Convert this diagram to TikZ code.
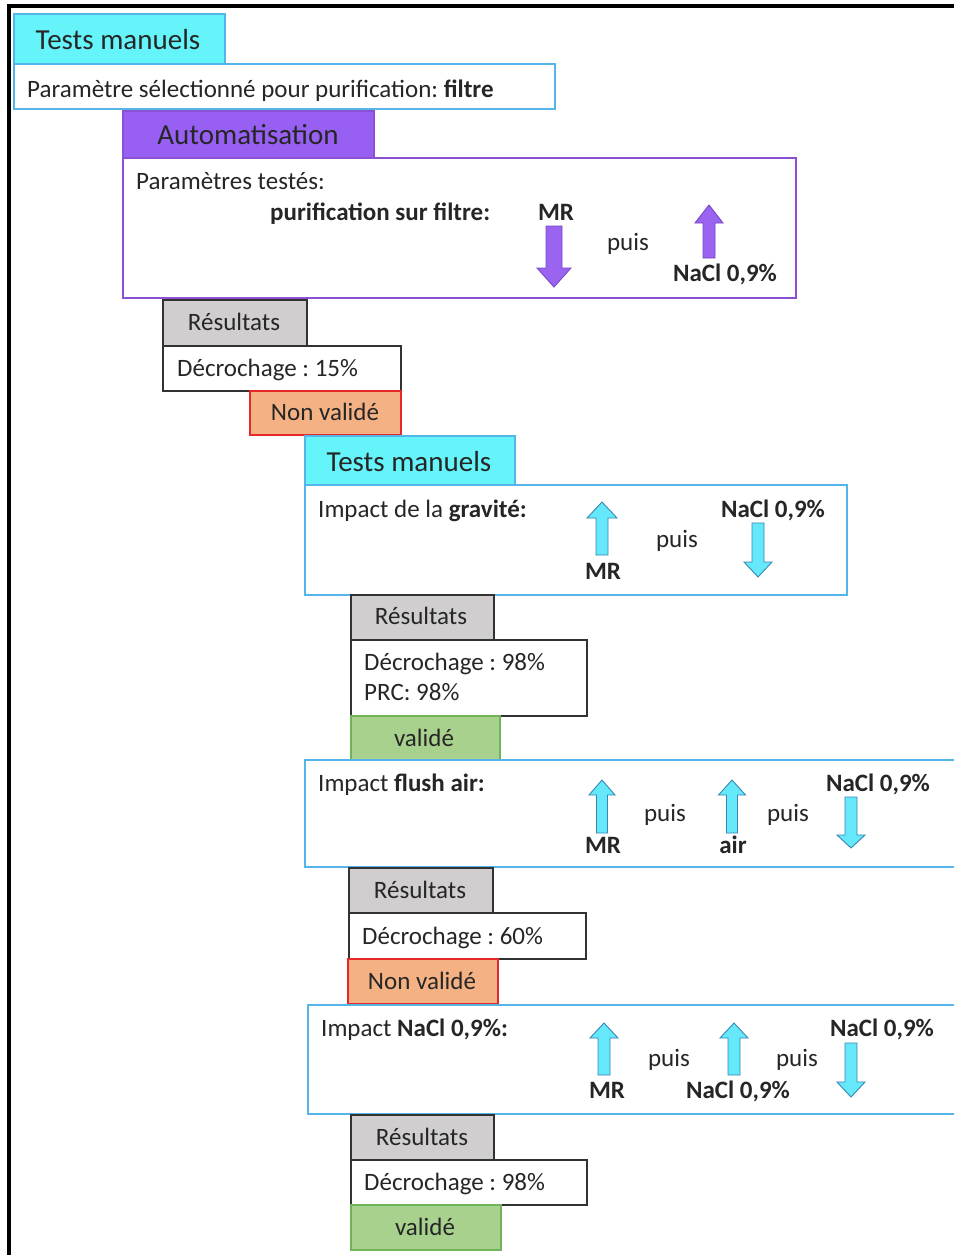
\documentclass[tikz,border=0pt]{standalone}
\usepackage{fontspec}
\setmainfont{Carlito}
\frenchspacing
\definecolor{txt}{RGB}{38,38,38}
\definecolor{cyanfill}{RGB}{100,244,250}
\definecolor{bluebrd}{RGB}{85,180,232}
\definecolor{purfill}{RGB}{152,96,242}
\definecolor{purbrd}{RGB}{140,80,210}
\definecolor{grayfill}{RGB}{208,206,206}
\definecolor{darkbrd}{RGB}{50,50,50}
\definecolor{orfill}{RGB}{244,177,131}
\definecolor{redbrd}{RGB}{230,40,40}
\definecolor{grfill}{RGB}{169,209,142}
\definecolor{grbrd}{RGB}{112,180,90}
\definecolor{arrcyan}{RGB}{100,232,250}
\definecolor{arrcyanbrd}{RGB}{55,135,180}
\definecolor{arrpur}{RGB}{155,100,240}
\definecolor{arrpurbrd}{RGB}{120,70,200}
\newcommand{\BlkArr}[7]{%
  \draw[#1] ({#2-#6},#3) -- ({#2-#6},#4) -- ({#2-#7},#4) -- (#2,#5) -- ({#2+#7},#4) -- ({#2+#6},#4) -- ({#2+#6},#3) -- cycle;}
\tikzset{
  box/.style={draw, rectangle, anchor=north west, inner sep=0pt, line width=1.6pt},
  hcyan/.style={box, fill=cyanfill, draw=bluebrd},
  bcyan/.style={box, fill=white, draw=bluebrd},
  hpur/.style={box, fill=purfill, draw=purbrd},
  bpur/.style={box, fill=white, draw=purbrd},
  hgray/.style={box, fill=grayfill, draw=darkbrd},
  bwhite/.style={box, fill=white, draw=darkbrd},
  nonval/.style={box, fill=orfill, draw=redbrd},
  val/.style={box, fill=grfill, draw=grbrd},
  htxt/.style={text=txt, inner sep=0pt, anchor=base, font=\fontsize{29}{33}\selectfont},
  ctxt/.style={text=txt, inner sep=0pt, anchor=base, font=\fontsize{25}{29}\selectfont},
  ltxt/.style={text=txt, inner sep=0pt, anchor=base west, font=\fontsize{25}{29}\selectfont},
  cyarr/.style={fill=arrcyan, draw=arrcyanbrd, line width=0.9pt, line join=miter},
  puarr/.style={fill=arrpur, draw=arrpurbrd, line width=0.9pt, line join=miter},
}
\begin{document}
\begin{tikzpicture}[x=1pt,y=-1pt]
\useasboundingbox (0,0) rectangle (954,1255);
\clip (0,0) rectangle (954,1255);
\fill[white] (0,0) rectangle (954,1255);
% frame
\draw[line width=3.5pt] (7,6) -- (954,6);
\draw[line width=3.5pt] (9,6) -- (9,1255);
% block 1
\node[hcyan, minimum width=211pt, minimum height=50pt] (h1) at (13,13) {};
\node[htxt] (h1t) at (118,49) {Tests manuels};
\node[bcyan, minimum width=541pt, minimum height=45pt] (b1) at (13,63) {};
\node[ltxt] (b1t) at (27,97) {Paramètre sélectionné pour purification: \textbf{filtre}};
% automatisation
\node[hpur, minimum width=251pt, minimum height=47pt] (h2) at (122,110) {};
\node[htxt] (h2t) at (248,144) {Automatisation};
\node[bpur, minimum width=673pt, minimum height=140pt] (b2) at (122,157) {};
\node[ltxt] (b2a) at (136,189) {Paramètres testés:};
\node[ltxt] (b2b) at (270,220) {\textbf{purification sur filtre:}};
\node[ctxt] (b2mr) at (556,220) {\textbf{MR}};
\node[ctxt] (b2p) at (628,250) {puis};
\node[ctxt] (b2n) at (725,281) {\textbf{NaCl 0,9\%}};
\BlkArr{puarr}{554}{226}{268}{287}{8}{17}
\BlkArr{puarr}{709}{258}{223}{205}{6}{14}
% results 1
\node[hgray, minimum width=144pt, minimum height=46pt] (r1) at (162,299) {};
\node[ctxt] (r1t) at (234,330) {Résultats};
\node[bwhite, minimum width=238pt, minimum height=45pt] (d1) at (162,345) {};
\node[ltxt] (d1t) at (177,376) {Décrochage : 15\%};
\node[nonval, minimum width=151pt, minimum height=44pt] (n1) at (249,390) {};
\node[ctxt] (n1t) at (325,420) {Non validé};
% tests manuels 2 - gravity
\node[hcyan, minimum width=210pt, minimum height=49pt] (h3) at (304,435) {};
\node[htxt] (h3t) at (409,471) {Tests manuels};
\node[bcyan, minimum width=542pt, minimum height=110pt] (b3) at (304,484) {};
\node[ltxt] (b3a) at (318,517) {Impact de la \textbf{gravité:}};
\node[ctxt] (b3mr) at (603,579) {\textbf{MR}};
\node[ctxt] (b3p) at (677,547) {puis};
\node[ctxt] (b3n) at (773,517) {\textbf{NaCl 0,9\%}};
\BlkArr{cyarr}{602}{555}{518}{502}{6}{15}
\BlkArr{cyarr}{758}{523}{562}{577}{6}{14}
% results 2
\node[hgray, minimum width=143pt, minimum height=45pt] (r2) at (350,594) {};
\node[ctxt] (r2t) at (421,624) {Résultats};
\node[bwhite, minimum width=236pt, minimum height=76pt] (d2) at (350,639) {};
\node[ltxt] (d2a) at (364,670) {Décrochage : 98\%};
\node[ltxt] (d2b) at (364,700) {PRC: 98\%};
\node[val, minimum width=149pt, minimum height=44pt] (v2) at (350,715) {};
\node[ctxt] (v2t) at (424,746) {validé};
% flush air
\node[bcyan, minimum width=660pt, minimum height=107pt] (b4) at (304,759) {};
\node[ltxt] (b4a) at (318,791) {Impact \textbf{flush air:}};
\node[ctxt] (b4mr) at (603,853) {\textbf{MR}};
\node[ctxt] (b4p1) at (665,821) {puis};
\node[ctxt] (b4air) at (733,853) {\textbf{air}};
\node[ctxt] (b4p2) at (788,821) {puis};
\node[ctxt] (b4n) at (878,791) {\textbf{NaCl 0,9\%}};
\BlkArr{cyarr}{602}{833}{795}{780}{5.5}{13}
\BlkArr{cyarr}{732}{833}{795}{780}{5.5}{13.5}
\BlkArr{cyarr}{851}{797}{835}{848}{6}{14}
% results 3
\node[hgray, minimum width=144pt, minimum height=45pt] (r3) at (348,867) {};
\node[ctxt] (r3t) at (420,898) {Résultats};
\node[bwhite, minimum width=237pt, minimum height=46pt] (d3) at (348,912) {};
\node[ltxt] (d3t) at (362,944) {Décrochage : 60\%};
\node[nonval, minimum width=150pt, minimum height=45pt] (n3) at (347,958) {};
\node[ctxt] (n3t) at (422,989) {Non validé};
% NaCl
\node[bcyan, minimum width=660pt, minimum height=109pt] (b5) at (307,1004) {};
\node[ltxt] (b5a) at (321,1036) {Impact \textbf{NaCl 0,9\%:}};
\node[ctxt] (b5mr) at (607,1098) {\textbf{MR}};
\node[ctxt] (b5p1) at (669,1066) {puis};
\node[ctxt] (b5n1) at (738,1098) {\textbf{NaCl 0,9\%}};
\node[ctxt] (b5p2) at (797,1066) {puis};
\node[ctxt] (b5n2) at (882,1036) {\textbf{NaCl 0,9\%}};
\BlkArr{cyarr}{604}{1075}{1038}{1023}{6}{14}
\BlkArr{cyarr}{734}{1075}{1038}{1023}{6}{14}
\BlkArr{cyarr}{851}{1043}{1082}{1097}{6}{14}
% results 4
\node[hgray, minimum width=143pt, minimum height=45pt] (r4) at (350,1114) {};
\node[ctxt] (r4t) at (422,1145) {Résultats};
\node[bwhite, minimum width=236pt, minimum height=45pt] (d4) at (350,1159) {};
\node[ltxt] (d4t) at (364,1190) {Décrochage : 98\%};
\node[val, minimum width=150pt, minimum height=45pt] (v4) at (350,1204) {};
\node[ctxt] (v4t) at (425,1235) {validé};
\end{tikzpicture}
\end{document}
